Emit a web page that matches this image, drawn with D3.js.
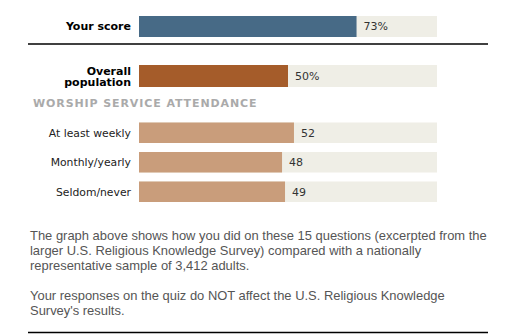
<!DOCTYPE html>
<html>
<head>
<meta charset="utf-8">
<script src="https://cdn.jsdelivr.net/npm/d3@7"></script>
<style>
  html, body { margin: 0; padding: 0; background: #fff; }
</style>
</head>
<body>
<div id="grafico"></div>
<script>
// quiz result vs. national sample
const scoreLabel = ["Your score"];
const scoreValues = [73];
const overallLabel = ["Overall", "population"];
const overallValues = [50];
const groupTitle = "WORSHIP SERVICE ATTENDANCE";
const attendanceCats = ["At least weekly", "Monthly/yearly", "Seldom/never"];
const attendanceValues = [52, 48, 49];
const notes = [
  ["The graph above shows how you did on these 15 questions (excerpted from the",
   "larger U.S. Religious Knowledge Survey) compared with a nationally",
   "representative sample of 3,412 adults."],
  ["Your responses on the quiz do NOT affect the U.S. Religious Knowledge",
   "Survey's results."]
];

const width = 505, height = 334;
const labelFont = "'DejaVu Sans', Verdana, sans-serif";

const svg = d3.select("#grafico")
  .append("svg")
  .attr("width", width)
  .attr("height", height);

const x = d3.scaleLinear().domain([0, 100]).range([139, 437]);
const labelX = 131;

function drawRow(g, y0, h, value, color, suffix) {
  g.append("rect")
    .attr("x", x(0)).attr("y", y0)
    .attr("width", x(100) - x(0)).attr("height", h)
    .attr("fill", "#efeee6");
  g.append("rect")
    .attr("x", x(0)).attr("y", y0)
    .attr("width", x(value) - x(0)).attr("height", h)
    .attr("fill", color);
  g.append("text")
    .attr("x", x(value) + 7)
    .attr("y", y0 + h / 2)
    .attr("dy", "0.36em")
    .attr("font-family", labelFont)
    .attr("font-size", "11px")
    .attr("fill", "#333")
    .text(value + suffix);
}

// your score
const scoreG = svg.append("g");
drawRow(scoreG, 16, 21, scoreValues[0], "#476a86", "%");
scoreG.append("text")
  .attr("x", labelX).attr("y", 26.5).attr("dy", "0.36em")
  .attr("text-anchor", "end")
  .attr("font-family", labelFont).attr("font-weight", "bold")
  .attr("font-size", "11px").attr("fill", "#000")
  .text(scoreLabel[0]);

svg.append("line")
  .attr("x1", 28).attr("x2", 488)
  .attr("y1", 44).attr("y2", 44)
  .attr("stroke", "#000").attr("stroke-width", 1.5);

// overall population
const overallG = svg.append("g");
drawRow(overallG, 65, 22, overallValues[0], "#a55c2a", "%");
overallG.selectAll(".lbl")
  .data(overallLabel)
  .enter()
  .append("text")
  .attr("x", labelX)
  .attr("y", (d, i) => 71 + i * 11.5)
  .attr("dy", "0.36em")
  .attr("text-anchor", "end")
  .attr("font-family", labelFont).attr("font-weight", "bold")
  .attr("font-size", "11px").attr("fill", "#000")
  .text(d => d);

svg.append("text")
  .attr("x", 33).attr("y", 103).attr("dy", "0.36em")
  .attr("font-family", labelFont).attr("font-weight", "bold")
  .attr("font-size", "11px").attr("fill", "#aaa")
  .attr("letter-spacing", "0.9px")
  .text(groupTitle);

// attendance breakdown
const y = d3.scaleBand()
  .domain(attendanceCats)
  .range([122.5, 202])
  .paddingInner(0.305)
  .paddingOuter(0);

attendanceCats.forEach((c, i) => {
  const g = svg.append("g");
  drawRow(g, y(c), y.bandwidth(), attendanceValues[i], "#c99d7b", "");
  g.append("text")
    .attr("x", labelX).attr("y", y(c) + y.bandwidth() / 2).attr("dy", "0.36em")
    .attr("text-anchor", "end")
    .attr("font-family", labelFont)
    .attr("font-size", "10.8px").attr("fill", "#222")
    .text(c);
});

// footnote
const noteTop = [239.5, 299.5];
notes.forEach((para, p) => {
  svg.append("g").selectAll("text")
    .data(para)
    .enter()
    .append("text")
    .attr("x", 30)
    .attr("y", (d, i) => noteTop[p] + i * 15)
    .attr("font-family", "'Liberation Sans', Arial, Helvetica, sans-serif")
    .attr("font-size", "12.95px")
    .attr("fill", "#555")
    .text(d => d);
});

svg.append("line")
  .attr("x1", 28).attr("x2", 488)
  .attr("y1", 332.5).attr("y2", 332.5)
  .attr("stroke", "#000").attr("stroke-width", 1.5);
</script>
</body>
</html>
